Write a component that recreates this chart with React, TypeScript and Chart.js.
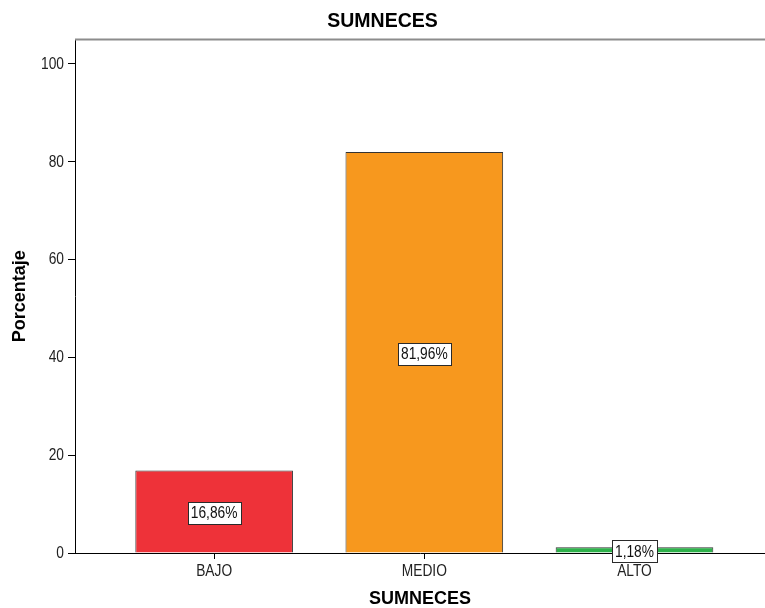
import { useEffect, useRef } from "react";
import { Chart, registerables } from "chart.js";

Chart.register(...registerables);

// Frequency table of SUMNECES levels (percent of cases)
const categories = ["BAJO", "MEDIO", "ALTO"];
const percentages = [16.86, 81.96, 1.18];
const barColors = ["#EE3239", "#F7981E", "#2DB14A"];
const yTickValues = [0, 20, 40, 60, 80, 100];
const chartTitle = "SUMNECES";
const xAxisTitle = "SUMNECES";
const yAxisTitle = "Porcentaje";

const SANS = '"Liberation Sans", Arial, sans-serif';
// Horizontal squeeze applied to the small labels (narrow sans look)
const NARROW_RATIO = 0.86;

const formatPct = (v: number) => v.toFixed(2).replace(".", ",") + "%";

function narrowText(ctx: CanvasRenderingContext2D, text: string, x: number, y: number, align: CanvasTextAlign) {
  ctx.save();
  ctx.translate(x, y);
  ctx.scale(NARROW_RATIO, 1);
  ctx.textAlign = align;
  ctx.textBaseline = "middle";
  ctx.fillText(text, 0, 0);
  ctx.restore();
}

// Grey frame line along the top of the plotting area
const frameLine = {
  id: "frameLine",
  beforeDatasetsDraw(chart: any) {
    const { ctx, chartArea } = chart;
    ctx.save();
    ctx.strokeStyle = "#8c8c8c";
    ctx.lineWidth = 2;
    ctx.beginPath();
    ctx.moveTo(chartArea.left, chartArea.top);
    ctx.lineTo(chartArea.right, chartArea.top);
    ctx.stroke();
    ctx.restore();
  },
};

// Category tick marks and tick labels in a condensed face, placed from the chart's scales
const tickLabels = {
  id: "tickLabels",
  afterDraw(chart: any) {
    const { ctx } = chart;
    const xScale = chart.scales.x;
    const yScale = chart.scales.y;
    ctx.save();
    ctx.strokeStyle = "#000";
    ctx.lineWidth = 1;
    categories.forEach((_, i) => {
      const px = Math.round(xScale.getPixelForValue(i + 1)) + 0.5;
      ctx.beginPath();
      ctx.moveTo(px, xScale.top);
      ctx.lineTo(px, xScale.top + 6);
      ctx.stroke();
    });
    ctx.font = `16px ${SANS}`;
    ctx.fillStyle = "#222";
    yTickValues.forEach((v) => {
      narrowText(ctx, String(v), yScale.right - 11, yScale.getPixelForValue(v) + 0.5, "right");
    });
    categories.forEach((c, i) => {
      narrowText(ctx, c, xScale.getPixelForValue(i + 1), xScale.top + 19, "center");
    });
    ctx.restore();
  },
};

// Boxed percentage labels centred at half of each bar's height
const valueBoxes = {
  id: "valueBoxes",
  afterDraw(chart: any) {
    const { ctx } = chart;
    const yScale = chart.scales.y;
    const meta = chart.getDatasetMeta(0);
    ctx.save();
    ctx.font = `16px ${SANS}`;
    meta.data.forEach((bar: any, i: number) => {
      const v = percentages[i];
      const cx = bar.x;
      const cy = yScale.getPixelForValue(v / 2) + 1;
      const text = formatPct(v);
      const w = Math.round(ctx.measureText(text).width * NARROW_RATIO + 6);
      const h = 22;
      const x0 = Math.round(cx - w / 2) + 0.5;
      const y0 = Math.round(cy - h / 2) + 0.5;
      ctx.fillStyle = "#ffffff";
      ctx.fillRect(x0, y0, w, h);
      ctx.strokeStyle = "#2a2a2a";
      ctx.lineWidth = 1;
      ctx.strokeRect(x0, y0, w, h);
      ctx.fillStyle = "#111111";
      narrowText(ctx, text, cx, cy + 1, "center");
    });
    ctx.restore();
  },
};

export default function App() {
  const canvasRef = useRef<HTMLCanvasElement | null>(null);

  useEffect(() => {
    const canvas = canvasRef.current;
    if (!canvas) return;

    const chart = new Chart(canvas, {
      type: "bar",
      data: {
        datasets: [
          {
            label: "Porcentaje",
            data: categories.map((_, i) => ({ x: i + 1, y: percentages[i] })),
            backgroundColor: barColors,
            borderColor: "#333333",
            borderWidth: 1,
            barPercentage: 0.75,
            categoryPercentage: 1,
          },
        ],
      },
      options: {
        responsive: false,
        animation: false,
        layout: { padding: 0 },
        plugins: {
          legend: { display: false },
          tooltip: { enabled: false },
          title: {
            display: true,
            text: chartTitle,
            color: "#000",
            font: { family: SANS, size: 19.5, weight: "bold" },
            padding: { top: 10, bottom: 6 },
          },
        },
        scales: {
          x: {
            type: "linear",
            min: 0.338,
            max: 3.621,
            offset: false,
            afterFit(scale: any) {
              scale.height = 55;
            },
            afterBuildTicks(scale: any) {
              scale.ticks = categories.map((_, i) => ({ value: i + 1 }));
            },
            ticks: { display: false, autoSkip: false },
            grid: { offset: false, drawOnChartArea: false, drawTicks: false },
            border: { display: true, color: "#000", width: 1, z: 1 },
            title: {
              display: true,
              text: xAxisTitle,
              color: "#000",
              font: { family: SANS, size: 18, weight: "bold", lineHeight: 1 },
              padding: { top: 0, bottom: 0 },
            },
          },
          y: {
            type: "linear",
            min: 0,
            max: 105,
            afterFit(scale: any) {
              scale.width = 75;
            },
            afterBuildTicks(scale: any) {
              scale.ticks = yTickValues.map((v) => ({ value: v }));
            },
            ticks: { display: false },
            grid: { drawOnChartArea: false, drawTicks: true, tickLength: 7, color: "#000" },
            border: { display: true, color: "#000", width: 1 },
            title: {
              display: true,
              text: yAxisTitle,
              color: "#000",
              font: { family: SANS, size: 18, weight: "bold" },
              padding: { top: 9, bottom: 0 },
            },
          },
        },
      },
      plugins: [frameLine, tickLabels, valueBoxes],
    } as any);

    return () => chart.destroy();
  }, []);

  return (
    <div style={{ position: "absolute", left: 0, top: 0, width: 765, height: 608, background: "#fff" }}>
      <canvas ref={canvasRef} width={765} height={608} style={{ display: "block" }} />
    </div>
  );
}
